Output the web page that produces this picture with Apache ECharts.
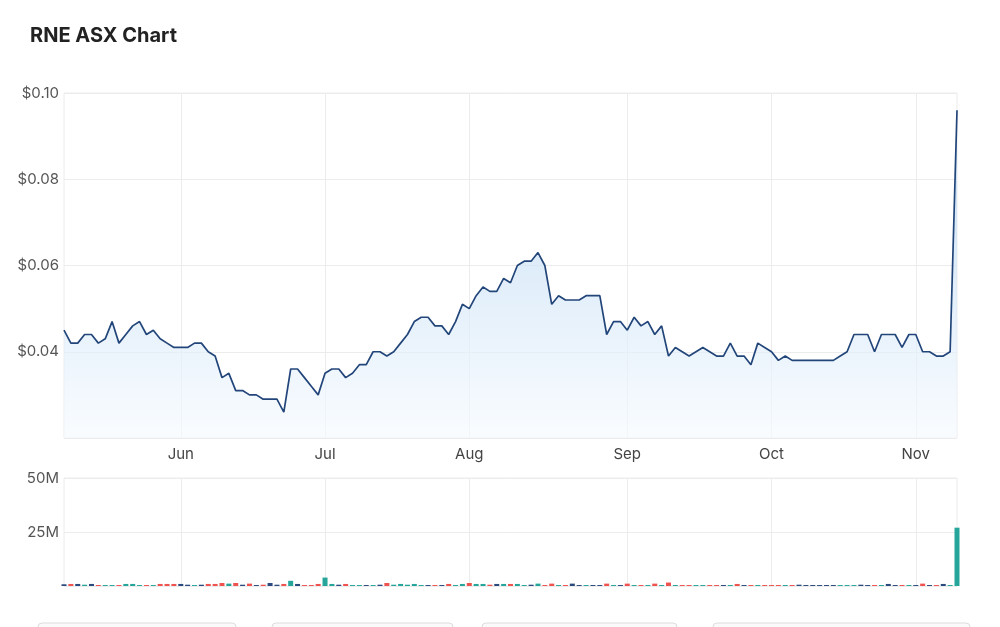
<!DOCTYPE html>
<html>
<head>
<meta charset="utf-8">
<script src="https://cdn.jsdelivr.net/npm/echarts@6/dist/echarts.min.js"></script>
<style>
  * { margin: 0; padding: 0; }
  html, body { width: 1000px; height: 627px; background: #fff; overflow: hidden; }
  #chart { width: 1000px; height: 627px; }
</style>
</head>
<body>
<div id="chart"></div>
<script>
// ASX trading days, 9 May 2022 - 9 Nov 2022
const dates = [
  '2022-05-09','2022-05-10','2022-05-11','2022-05-12','2022-05-13','2022-05-16','2022-05-17','2022-05-18','2022-05-19','2022-05-20',
  '2022-05-23','2022-05-24','2022-05-25','2022-05-26','2022-05-27','2022-05-30','2022-05-31',
  '2022-06-01','2022-06-02','2022-06-03','2022-06-06','2022-06-07','2022-06-08','2022-06-09','2022-06-10','2022-06-14','2022-06-15',
  '2022-06-16','2022-06-17','2022-06-20','2022-06-21','2022-06-22','2022-06-23','2022-06-24','2022-06-27','2022-06-28','2022-06-29','2022-06-30',
  '2022-07-01','2022-07-04','2022-07-05','2022-07-06','2022-07-07','2022-07-08','2022-07-11','2022-07-12','2022-07-13','2022-07-14',
  '2022-07-15','2022-07-18','2022-07-19','2022-07-20','2022-07-21','2022-07-22','2022-07-25','2022-07-26','2022-07-27','2022-07-28','2022-07-29',
  '2022-08-01','2022-08-02','2022-08-03','2022-08-04','2022-08-05','2022-08-08','2022-08-09','2022-08-10','2022-08-11','2022-08-12',
  '2022-08-15','2022-08-16','2022-08-17','2022-08-18','2022-08-19','2022-08-22','2022-08-23','2022-08-24','2022-08-25','2022-08-26',
  '2022-08-29','2022-08-30','2022-08-31',
  '2022-09-01','2022-09-02','2022-09-05','2022-09-06','2022-09-07','2022-09-08','2022-09-09','2022-09-12','2022-09-13','2022-09-14',
  '2022-09-15','2022-09-16','2022-09-19','2022-09-20','2022-09-21','2022-09-23','2022-09-26','2022-09-27','2022-09-28','2022-09-29','2022-09-30',
  '2022-10-03','2022-10-04','2022-10-05','2022-10-06','2022-10-07','2022-10-10','2022-10-11','2022-10-12','2022-10-13','2022-10-14',
  '2022-10-17','2022-10-18','2022-10-19','2022-10-20','2022-10-21','2022-10-24','2022-10-25','2022-10-26','2022-10-27','2022-10-28','2022-10-31',
  '2022-11-01','2022-11-02','2022-11-03','2022-11-04','2022-11-07','2022-11-08','2022-11-09'
];

// closing price, $
const prices = [
  0.045,0.042,0.042,0.044,0.044,0.042,0.043,0.047,0.042,0.044,
  0.046,0.047,0.044,0.045,0.043,0.042,0.041,
  0.041,0.041,0.042,0.042,0.040,0.039,0.034,0.035,0.031,0.031,
  0.030,0.030,0.029,0.029,0.029,0.026,0.036,0.036,0.034,0.032,0.030,
  0.035,0.036,0.036,0.034,0.035,0.037,0.037,0.040,0.040,0.039,
  0.040,0.042,0.044,0.047,0.048,0.048,0.046,0.046,0.044,0.047,0.051,
  0.050,0.053,0.055,0.054,0.054,0.057,0.056,0.060,0.061,0.061,
  0.063,0.060,0.051,0.053,0.052,0.052,0.052,0.053,0.053,0.053,
  0.044,0.047,0.047,
  0.045,0.048,0.046,0.047,0.044,0.046,0.039,0.041,0.040,0.039,
  0.040,0.041,0.040,0.039,0.039,0.042,0.039,0.039,0.037,0.042,0.041,
  0.040,0.038,0.039,0.038,0.038,0.038,0.038,0.038,0.038,0.038,
  0.039,0.040,0.044,0.044,0.044,0.040,0.044,0.044,0.044,0.041,0.044,
  0.044,0.040,0.040,0.039,0.039,0.040,0.096
];

// traded volume, millions
const volumes = [
  0.8,0.95,0.95,0.6,0.95,0.45,0.45,0.45,0.45,0.95,
  0.95,0.45,0.45,0.45,0.95,0.95,0.95,
  0.95,0.6,0.45,0.6,0.95,0.95,1.4,1.1,1.4,0.6,
  1.1,0.45,0.6,1.4,0.6,0.95,2.4,0.95,0.45,0.45,0.95,
  3.9,0.95,0.6,0.95,0.45,0.45,0.45,0.45,0.6,1.4,
  0.6,0.95,0.6,0.95,0.45,0.45,0.45,0.45,0.95,0.45,0.95,
  1.4,0.95,0.95,0.6,0.95,0.95,0.95,0.95,0.45,0.6,
  1.1,0.45,1.1,0.45,0.45,1.1,0.45,0.45,0.45,0.45,
  1.1,0.45,0.45,
  1.1,0.45,0.45,0.45,1.1,0.45,1.6,0.45,0.45,0.45,
  0.45,0.45,0.45,0.45,0.45,0.45,0.95,0.45,0.45,0.45,0.45,
  0.45,0.45,0.45,0.45,0.6,0.45,0.45,0.45,0.45,0.45,
  0.45,0.45,0.45,0.6,0.45,0.45,0.45,0.95,0.45,0.45,0.45,
  0.45,1.1,0.45,0.45,0.95,0.45,27
];

const monthNames = ['Jan','Feb','Mar','Apr','May','Jun','Jul','Aug','Sep','Oct','Nov','Dec'];
const isMonthStart = (i) => i > 0 && dates[i].slice(5, 7) !== dates[i - 1].slice(5, 7);

const UP = '#26a69a', DOWN = '#ef5350', FLAT = '#2b4a7d';
const font = 'Inter, "Noto Sans", sans-serif';

const chart = echarts.init(document.getElementById('chart'), null, { renderer: 'canvas' });

chart.setOption({
  animation: false,
  title: {
    text: 'RNE ASX Chart', left: 25, top: 21,
    textStyle: { fontFamily: font, fontSize: 20, fontWeight: 'bold', color: '#222' }
  },
  grid: [
    { left: 64, right: 43, top: 93, bottom: 189, show: true, borderColor: '#ececec', borderWidth: 1 },
    { left: 64, right: 43, top: 478, bottom: 41, show: true, borderColor: '#ececec', borderWidth: 1 }
  ],
  xAxis: [
    {
      type: 'category', gridIndex: 0, data: dates, boundaryGap: false,
      axisLine: { show: false }, axisTick: { show: false },
      axisLabel: {
        interval: (i) => isMonthStart(i),
        formatter: (v) => monthNames[+v.slice(5, 7) - 1],
        fontFamily: font, fontSize: 15, color: '#444', margin: 9
      },
      splitLine: { show: true, interval: (i) => isMonthStart(i), lineStyle: { color: '#ececec' } }
    },
    {
      type: 'category', gridIndex: 1, data: dates, boundaryGap: false,
      axisLine: { show: false }, axisTick: { show: false }, axisLabel: { show: false },
      splitLine: { show: true, interval: (i) => isMonthStart(i), lineStyle: { color: '#ececec' } }
    }
  ],
  yAxis: [
    {
      type: 'value', gridIndex: 0, min: 0.02, max: 0.10, interval: 0.02,
      axisLabel: {
        showMinLabel: false, formatter: (v) => '$' + v.toFixed(2),
        fontFamily: font, fontSize: 15, color: '#555', margin: 5
      },
      splitLine: { lineStyle: { color: '#ececec' } }
    },
    {
      type: 'value', gridIndex: 1, min: 0, max: 50, interval: 25,
      axisLabel: {
        showMinLabel: false, formatter: (v) => v + 'M',
        fontFamily: font, fontSize: 15, color: '#555', margin: 5
      },
      splitLine: { lineStyle: { color: '#ececec' } }
    }
  ],
  series: [
    {
      type: 'line', xAxisIndex: 0, yAxisIndex: 0, data: prices,
      symbol: 'none', lineStyle: { color: '#23467a', width: 1.7 },
      areaStyle: {
        origin: 'start',
        color: new echarts.graphic.LinearGradient(0, 0, 0, 1, [
          { offset: 0, color: 'rgb(174,209,240)' },
          { offset: 1, color: 'rgb(246,250,254)' }
        ])
      }
    },
    {
      type: 'bar', xAxisIndex: 1, yAxisIndex: 1, data: volumes, barWidth: 5,
      itemStyle: {
        color: (p) => {
          const i = p.dataIndex;
          if (i === 0 || prices[i] === prices[i - 1]) return FLAT;
          return prices[i] > prices[i - 1] ? UP : DOWN;
        }
      }
    }
  ],
  graphic: [
    { type: 'rect', shape: { x: 38, y: 623, width: 198, height: 20, r: 4 }, style: { fill: '#fafafa', stroke: '#dcdcdc' } },
    { type: 'rect', shape: { x: 272, y: 623, width: 181, height: 20, r: 4 }, style: { fill: '#fafafa', stroke: '#dcdcdc' } },
    { type: 'rect', shape: { x: 482, y: 623, width: 195, height: 20, r: 4 }, style: { fill: '#fafafa', stroke: '#dcdcdc' } },
    { type: 'rect', shape: { x: 713, y: 623, width: 257, height: 20, r: 4 }, style: { fill: '#fafafa', stroke: '#dcdcdc' } }
  ]
});
</script>
</body>
</html>
